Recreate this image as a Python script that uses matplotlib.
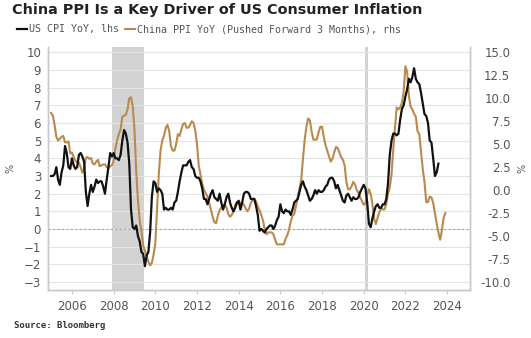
import matplotlib
matplotlib.use("Agg")
import matplotlib.pyplot as plt
import numpy as np

# US CPI YoY (%), monthly from Jan 2005
cpi_start = 2005.0
us_cpi = [
    3.0, 3.0, 3.1, 3.5, 2.8, 2.5, 3.2, 3.6, 4.7, 4.3, 3.5, 3.4,
    4.0, 3.6, 3.4, 3.5, 4.2, 4.3, 4.1, 3.8, 2.1, 1.3, 2.0, 2.5,
    2.1, 2.4, 2.8, 2.6, 2.7, 2.7, 2.4, 2.0, 2.8, 3.5, 4.3, 4.1,
    4.3, 4.0, 4.0, 3.9, 4.2, 5.0, 5.6, 5.4, 4.9, 3.7, 1.1, 0.1,
    0.0, 0.2, -0.4, -0.7, -1.3, -1.4, -2.1, -1.5, -1.3, -0.2, 1.8, 2.7,
    2.6, 2.1, 2.3, 2.2, 2.0, 1.1, 1.2, 1.1, 1.1, 1.2, 1.1, 1.5,
    1.6, 2.1, 2.7, 3.2, 3.6, 3.6, 3.6, 3.8, 3.9, 3.5, 3.4, 3.0,
    2.9, 2.9, 2.7, 2.3, 1.7, 1.7, 1.4, 1.7, 2.0, 2.2, 1.8, 1.7,
    1.6, 2.0, 1.5, 1.1, 1.4, 1.8, 2.0, 1.5, 1.2, 1.0, 1.2, 1.5,
    1.6, 1.1, 1.5, 2.0, 2.1, 2.1, 2.0, 1.7, 1.7, 1.7, 1.3, 0.8,
    -0.1, 0.0, -0.1, -0.2, 0.0, 0.1, 0.2, 0.2, 0.0, 0.2, 0.5, 0.7,
    1.4, 1.0, 0.9, 1.1, 1.0, 1.0, 0.8, 1.1, 1.5, 1.6, 1.7, 2.1,
    2.5, 2.7, 2.4, 2.2, 1.9, 1.6, 1.7, 1.9, 2.2, 2.0, 2.2, 2.1,
    2.1, 2.2, 2.4, 2.5, 2.8, 2.9, 2.9, 2.7, 2.3, 2.5, 2.2, 1.9,
    1.6, 1.5, 1.9, 2.0, 1.8, 1.6, 1.8, 1.7, 1.7, 1.8, 2.1, 2.3,
    2.5, 2.3, 1.5, 0.3, 0.1, 0.6, 1.0, 1.3, 1.4, 1.2, 1.2, 1.4,
    1.4, 1.7, 2.6, 4.2, 5.0, 5.4, 5.4, 5.3, 5.4, 6.2, 6.8, 7.0,
    7.5, 7.9, 8.5, 8.3, 8.6, 9.1, 8.5, 8.3, 8.2, 7.7, 7.1, 6.5,
    6.4, 6.0, 5.0, 4.9, 4.0, 3.0, 3.2, 3.7,
]

# China PPI YoY (%), pushed forward 3 months, monthly from Jan 2005
ppi_start = 2005.0
china_ppi = [
    8.4, 8.1, 7.1,
    5.8, 5.4, 5.6, 5.8, 5.9, 5.2, 5.2, 5.3, 4.0, 4.1, 3.6, 3.2,
    3.0, 3.0, 2.5, 1.9, 2.4, 3.5, 3.6, 3.4, 3.5, 2.9, 2.8, 3.1,
    3.3, 2.6, 2.7, 2.8, 2.8, 2.5, 2.4, 2.6, 2.7, 3.2, 4.6, 5.4,
    6.1, 6.6, 8.0, 8.1, 8.2, 8.8, 10.0, 10.1, 9.1, 6.6, 2.0, -1.1,
    -3.3, -4.5, -6.0, -6.6, -7.2, -7.8, -8.2, -7.9, -7.0, -5.8, -2.1, 1.7,
    4.3, 5.4, 5.9, 6.8, 7.1, 6.4, 4.8, 4.3, 4.3, 5.0, 6.1, 5.9,
    6.6, 7.2, 7.3, 6.8, 6.8, 7.1, 7.5, 7.3, 6.5, 5.0, 2.7, 1.7,
    0.7, 0.0, -0.3, -0.7, -1.4, -2.1, -2.9, -3.5, -3.6, -2.8, -2.2, -1.9,
    -1.6, -1.6, -1.9, -2.6, -2.9, -2.7, -2.3, -1.6, -1.3, -1.5, -1.4, -1.4,
    -1.6, -2.0, -2.3, -2.0, -1.4, -1.1, -0.9, -1.2, -1.8, -2.2, -2.7, -3.3,
    -4.3, -4.8, -4.6, -4.6, -4.6, -4.8, -5.4, -5.9, -5.9, -5.9, -5.9, -5.9,
    -5.3, -4.9, -4.3, -3.4, -2.8, -2.6, -1.7, -0.8, 0.1, 1.2, 3.3, 5.5,
    6.9, 7.8, 7.6, 6.4, 5.5, 5.5, 5.5, 6.3, 6.9, 6.9, 5.8, 4.9,
    4.3, 3.7, 3.1, 3.4, 4.1, 4.7, 4.6, 4.1, 3.6, 3.3, 2.7, 0.9,
    0.1, 0.1, 0.4, 0.9, 0.6, 0.0, -0.3, -0.8, -1.2, -1.6, -1.4, -0.5,
    0.1, -0.4, -1.5, -3.1, -3.7, -3.0, -2.4, -2.0, -2.1, -2.1, -1.5, -0.4,
    0.3, 1.7, 4.4, 6.8, 9.0, 8.8, 9.0, 9.5, 10.7, 13.5, 12.9, 10.3,
    9.1, 8.8, 8.3, 8.0, 6.4, 6.1, 4.2, 2.3, 0.9, -1.3, -1.3, -0.7,
    -0.8, -1.4, -2.5, -3.6, -4.6, -5.4, -4.4, -3.0, -2.5,
]

recessions = [(2007.92, 2009.45), (2020.08, 2020.2)]
year_ticks = [2006, 2008, 2010, 2012, 2014, 2016, 2018, 2020, 2022, 2024]
left_ticks = list(range(-3, 11))
right_ticks = [-10.0, -7.5, -5.0, -2.5, 0.0, 2.5, 5.0, 7.5, 10.0, 12.5, 15.0]

x_cpi = cpi_start + np.arange(len(us_cpi)) / 12
x_ppi = ppi_start + np.arange(len(china_ppi)) / 12

fig = plt.figure(figsize=(5.31, 3.38), dpi=100)
ax = fig.add_axes([48 / 531, 1 - 290 / 338, (470 - 48) / 531, (290 - 47) / 338])
ax2 = ax.twinx()

ax.set_xlim(2004.85, 2025.1)
ax.set_ylim(-3.45, 10.3)
ax2.set_ylim(-10.87, 15.58)

grey_txt = "#555555"
spine_c = "#c8c8c8"

for a, b in recessions:
    ax.axvspan(a, b, color="#d3d3d3", lw=0, zorder=0)

ax.set_yticks(left_ticks)
ax.grid(axis="y", color="#e4e4e4", lw=0.8, zorder=0.5)
ax.set_axisbelow(True)
ax.axhline(0, color="#a8a8a8", lw=0.8, ls=(0, (2, 2)), zorder=1)

# brown line drawn in ax, scaled by the right axis
ax.plot(x_ppi, china_ppi, color="#b98a4e", lw=1.5, zorder=2,
        transform=ax2.transData, label="China PPI YoY (Pushed Forward 3 Months), rhs")
ax.plot(x_cpi, us_cpi, color="#111111", lw=1.6, zorder=3, label="US CPI YoY, lhs")

ax.set_xticks(year_ticks)
ax.tick_params(axis="x", length=3, color=spine_c, labelcolor=grey_txt, labelsize=8.5, pad=4)
ax.tick_params(axis="y", length=0, labelcolor=grey_txt, labelsize=8.5, pad=5)

ax2.set_yticks(right_ticks)
ax2.set_yticklabels([f"{v:.1f}" for v in right_ticks])
ax2.tick_params(axis="y", length=0, labelcolor=grey_txt, labelsize=8.5, pad=29)
for lab in ax2.get_yticklabels():
    lab.set_ha("right")

for a in (ax, ax2):
    a.spines["top"].set_visible(False)
    for s in ("left", "right", "bottom"):
        a.spines[s].set_color(spine_c)
        a.spines[s].set_linewidth(1.0)

ax.set_ylabel("%", color=grey_txt, fontsize=7, rotation=90, labelpad=6)
ax2.set_ylabel("%", color=grey_txt, fontsize=7, rotation=90, labelpad=5)

fig.text(12 / 531, 1 - 10 / 338, "China PPI Is a Key Driver of US Consumer Inflation",
         fontsize=10.4, fontweight="bold", color="#222222", va="center", ha="left")

h, l = ax.get_legend_handles_labels()
leg = fig.legend(h[::-1], l[::-1], loc="center left", bbox_to_anchor=(8 / 531, 1 - 29 / 338),
                 ncol=2, frameon=False, handlelength=1.0, handletextpad=0.2,
                 columnspacing=0.6, prop={"family": "DejaVu Sans Mono", "size": 7.2})
for t in leg.get_texts():
    t.set_color(grey_txt)

fig.text(14 / 531, 1 - 325 / 338, "Source: Bloomberg", fontsize=6.5, fontweight="bold",
         family="DejaVu Sans Mono", color="#333333", va="center", ha="left")

fig.savefig("out.png", dpi=100)
